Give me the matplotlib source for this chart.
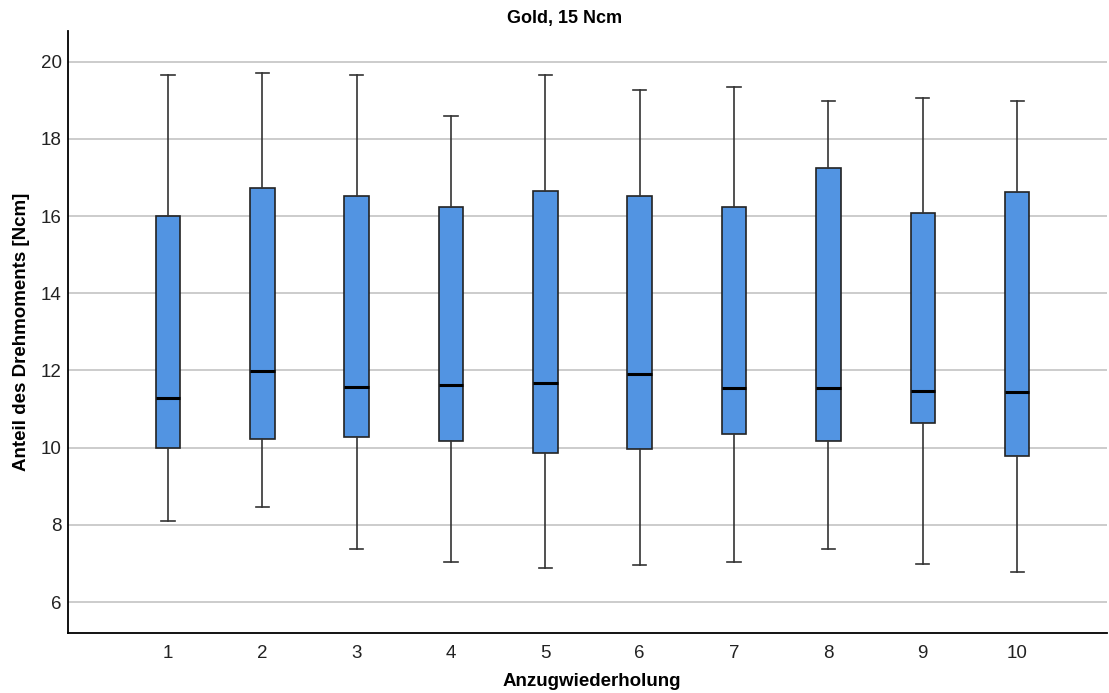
import matplotlib
matplotlib.use("Agg")
import matplotlib.pyplot as plt

# Kennwerte je Anzugwiederholung (Boxplot, Gold 15 Ncm)
wiederholungen = ["1", "2", "3", "4", "5", "6", "7", "8", "9", "10"]
whisker_oben = [19.66, 19.71, 19.66, 18.59, 19.66, 19.26, 19.34, 18.98, 19.07, 18.98]
q3 = [16.00, 16.72, 16.51, 16.24, 16.65, 16.51, 16.24, 17.24, 16.07, 16.62]
median = [11.30, 11.98, 11.57, 11.63, 11.67, 11.91, 11.54, 11.54, 11.46, 11.43]
q1 = [9.99, 10.23, 10.27, 10.17, 9.86, 9.96, 10.35, 10.17, 10.65, 9.79]
whisker_unten = [8.10, 8.47, 7.37, 7.03, 6.88, 6.95, 7.03, 7.37, 6.99, 6.78]

plt.rcParams["font.family"] = ["Liberation Sans", "DejaVu Sans"]

stats = []
for i in range(len(wiederholungen)):
    stats.append({
        "label": wiederholungen[i],
        "whislo": whisker_unten[i],
        "q1": q1[i],
        "med": median[i],
        "q3": q3[i],
        "whishi": whisker_oben[i],
        "fliers": [],
    })

fig = plt.figure(figsize=(11.09, 6.93), dpi=100)
ax = fig.add_axes([0.0613, 0.0866, 0.9367, 0.869])

pos = list(range(1, len(wiederholungen) + 1))
ax.bxp(
    stats,
    positions=pos,
    widths=0.26,
    patch_artist=True,
    showfliers=False,
    boxprops=dict(facecolor="#5294e2", edgecolor="#222222", linewidth=1.2),
    medianprops=dict(color="black", linewidth=2.2),
    whiskerprops=dict(color="#333333", linewidth=1.2),
    capprops=dict(color="#333333", linewidth=1.2),
    capwidths=0.14,
    zorder=3,
)

ax.set_xlim(-0.06, 10.95)
ax.set_ylim(5.2, 20.8)
ax.set_yticks([6, 8, 10, 12, 14, 16, 18, 20])
ax.set_xticks(pos)
ax.set_xticklabels(wiederholungen)
ax.yaxis.grid(True, color="#c4c4c4", linewidth=1.2, zorder=0)
ax.set_axisbelow(True)

for side in ["top", "right"]:
    ax.spines[side].set_visible(False)
for side in ["left", "bottom"]:
    ax.spines[side].set_linewidth(1.3)
    ax.spines[side].set_color("black")

ax.tick_params(axis="both", length=0, labelsize=13.5, colors="#222222")
ax.tick_params(axis="y", pad=4.5)
ax.tick_params(axis="x", pad=9)

fig.text(565 / 1109, 1 - 18 / 693, "Gold, 15 Ncm", ha="center", va="center",
         fontsize=13, fontweight="bold")
fig.text(592 / 1109, 1 - 681 / 693, "Anzugwiederholung", ha="center", va="center",
         fontsize=13.5, fontweight="bold")
fig.text(22 / 1109, 1 - 332 / 693, "Anteil des Drehmoments [Ncm]", ha="center",
         va="center", rotation=90, fontsize=13.5, fontweight="bold")

fig.savefig("out.png", dpi=100)
